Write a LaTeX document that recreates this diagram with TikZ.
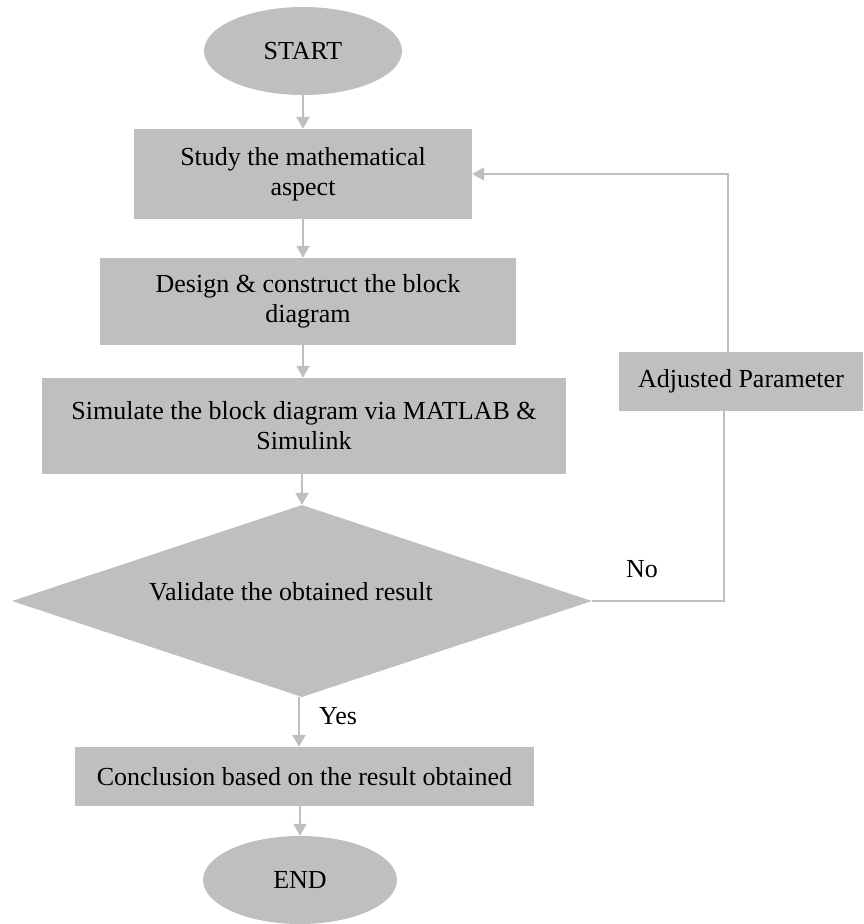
\documentclass[tikz,border=0pt]{standalone}
\usepackage{fontspec}
\setmainfont{Liberation Serif}
\usetikzlibrary{shapes.geometric,arrows.meta}
\definecolor{boxgray}{HTML}{BFBFBF}
\begin{document}
\begin{tikzpicture}[x=1pt,y=-1pt,
  every node/.style={font=\fontsize{26}{30}\selectfont, text=black},
  box/.style={fill=boxgray, draw=none, rectangle, inner sep=0pt, align=center},
  term/.style={fill=boxgray, draw=none, ellipse, inner sep=0pt},
  decision/.style={fill=boxgray, draw=none, diamond, inner sep=0pt},
  flow/.style={draw=boxgray, line width=2.5pt, -{Triangle[length=12pt,width=13pt]}},
  fb/.style={draw=boxgray, line width=1.6pt}]
\useasboundingbox (0,0) rectangle (863,924);

\node[term, minimum width=198pt, minimum height=88pt] (start) at (303,51) {START};
\node[box, minimum width=338pt, minimum height=90pt] (study) at (303,174) {Study the mathematical\\aspect};
\node[box, minimum width=416pt, minimum height=87pt] (design) at (308,301.5) {Design \& construct the block\\diagram};
\node[box, minimum width=524pt, minimum height=96pt] (sim) at (304,426) {Simulate the block diagram via MATLAB \&\\Simulink};
\node[decision, minimum width=580pt, minimum height=192pt] (val) at (302,601) {};
\node (valtext) at (291,592) {Validate the obtained result};
\node[box, minimum width=459pt, minimum height=59pt] (concl) at (304.5,776.5) {Conclusion based on the result obtained};
\node[term, minimum width=194pt, minimum height=88pt] (end) at (300,880) {END};
\node[box, minimum width=244pt, minimum height=59pt] (adj) at (741,381.5) {Adjusted Parameter};

\node (yes) at (338,716) {Yes};
\node (no) at (642,569) {No};

\draw[flow] (start.south) -- (study.north);
\draw[flow] (study.south) -- (study.south |- design.north);
\draw[flow] (study.south |- design.south) -- (study.south |- sim.north);
\draw[flow] (sim.south -| val.north) -- (val.north);
\draw[flow] ([xshift=-3pt]val.south) -- ([xshift=-3pt]val.south |- concl.north);
\draw[flow] (concl.south -| end.north) -- (end.north);

\coordinate (c1) at (724,601);
\coordinate (c2) at (728,174);
\draw[fb] (val.east) -- (c1) -- (c1 |- adj.south);
\draw[fb, -{Triangle[length=12pt,width=13pt]}] (c2 |- adj.north) -- (c2) -- (study.east |- c2);
\end{tikzpicture}
\end{document}
